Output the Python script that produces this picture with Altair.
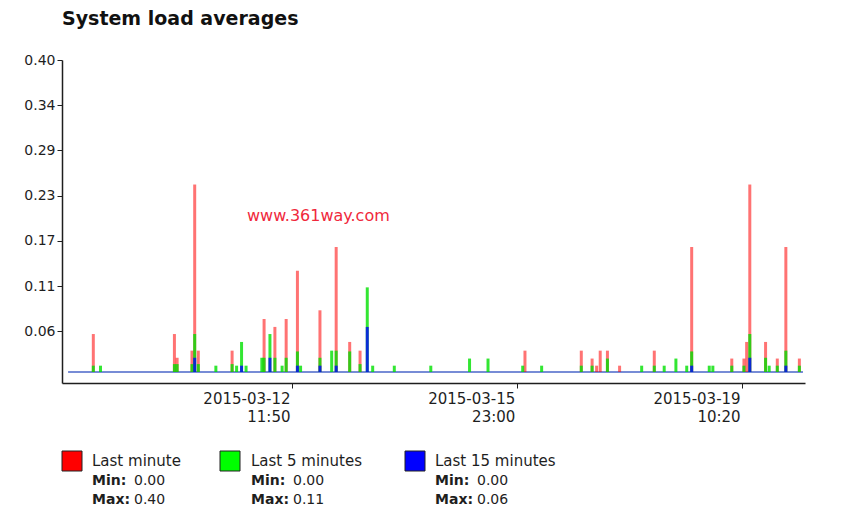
import altair as alt
import pandas as pd

TITLE = "System load averages"
WATERMARK = "www.361way.com"

# sample times (UTC) of the visible spikes
spike_times = [
    "2015-03-09T10:20:00Z", "2015-03-09T13:00:00Z", "2015-03-10T16:20:00Z", "2015-03-10T17:20:00Z",
    "2015-03-10T22:50:00Z", "2015-03-10T23:50:00Z", "2015-03-11T01:10:00Z", "2015-03-11T07:40:00Z",
    "2015-03-11T13:40:00Z", "2015-03-11T15:20:00Z", "2015-03-11T17:10:00Z", "2015-03-11T18:50:00Z",
    "2015-03-12T00:40:00Z", "2015-03-12T01:30:00Z", "2015-03-12T03:40:00Z", "2015-03-12T05:30:00Z",
    "2015-03-12T08:10:00Z", "2015-03-12T09:40:00Z", "2015-03-12T13:50:00Z", "2015-03-12T15:00:00Z",
    "2015-03-12T22:10:00Z", "2015-03-13T02:30:00Z", "2015-03-13T04:10:00Z", "2015-03-13T09:10:00Z",
    "2015-03-13T13:00:00Z", "2015-03-13T15:40:00Z", "2015-03-13T17:40:00Z", "2015-03-14T01:40:00Z",
    "2015-03-14T15:10:00Z", "2015-03-15T05:30:00Z", "2015-03-15T12:20:00Z", "2015-03-16T01:10:00Z",
    "2015-03-16T02:00:00Z", "2015-03-16T08:10:00Z", "2015-03-16T22:50:00Z", "2015-03-17T02:50:00Z",
    "2015-03-17T04:30:00Z", "2015-03-17T05:50:00Z", "2015-03-17T08:30:00Z", "2015-03-17T13:00:00Z",
    "2015-03-17T21:10:00Z", "2015-03-18T01:50:00Z", "2015-03-18T05:30:00Z", "2015-03-18T09:50:00Z",
    "2015-03-18T13:50:00Z", "2015-03-18T15:40:00Z", "2015-03-18T22:10:00Z", "2015-03-18T23:30:00Z",
    "2015-03-19T06:30:00Z", "2015-03-19T11:00:00Z", "2015-03-19T12:00:00Z", "2015-03-19T13:10:00Z",
    "2015-03-19T19:00:00Z", "2015-03-19T20:20:00Z", "2015-03-19T23:20:00Z", "2015-03-20T02:30:00Z",
    "2015-03-20T07:30:00Z",
]
last_1 = [
    0.048, 0.0, 0.048, 0.018, 0.027, 0.237, 0.027, 0.0,
    0.027, 0.0, 0.0, 0.0, 0.0, 0.067, 0.0, 0.057,
    0.0, 0.067, 0.128, 0.0, 0.078, 0.0, 0.158, 0.038,
    0.027, 0.0, 0.0, 0.0, 0.0, 0.0, 0.0, 0.0,
    0.027, 0.0, 0.027, 0.017, 0.008, 0.027, 0.027, 0.008,
    0.0, 0.027, 0.0, 0.0, 0.0, 0.158, 0.0, 0.0,
    0.017, 0.017, 0.038, 0.237, 0.038, 0.0, 0.017, 0.158,
    0.017,
]
last_5 = [
    0.008, 0.008, 0.010, 0.010, 0.010, 0.048, 0.010, 0.008,
    0.010, 0.008, 0.038, 0.008, 0.018, 0.018, 0.048, 0.018,
    0.008, 0.018, 0.026, 0.008, 0.018, 0.027, 0.027, 0.026,
    0.010, 0.107, 0.008, 0.008, 0.008, 0.017, 0.017, 0.008,
    0.0, 0.008, 0.008, 0.008, 0.0, 0.0, 0.017, 0.0,
    0.008, 0.008, 0.008, 0.017, 0.008, 0.026, 0.008, 0.008,
    0.008, 0.008, 0.0, 0.048, 0.018, 0.008, 0.008, 0.027,
    0.008,
]
last_15 = [
    0.0, 0.0, 0.0, 0.0, 0.0, 0.018, 0.0, 0.0,
    0.0, 0.0, 0.008, 0.0, 0.0, 0.0, 0.018, 0.0,
    0.0, 0.0, 0.008, 0.0, 0.008, 0.0, 0.008, 0.0,
    0.0, 0.057, 0.0, 0.0, 0.0, 0.0, 0.0, 0.0,
    0.0, 0.0, 0.0, 0.0, 0.0, 0.0, 0.0, 0.0,
    0.0, 0.0, 0.0, 0.0, 0.0, 0.008, 0.0, 0.0,
    0.0, 0.0, 0.0, 0.018, 0.0, 0.0, 0.0, 0.008,
    0.0,
]

series_names = ["Last minute", "Last 5 minutes", "Last 15 minutes"]
series_colors = ["#ff0000", "#00ff00", "#0000ff"]
series_min = ["0.00", "0.00", "0.00"]
series_max = ["0.40", "0.11", "0.06"]

y_ticks = [0.0571, 0.1143, 0.1714, 0.2286, 0.2857, 0.3429, 0.40]
BASELINE = 0.0056
line_span = ["2015-03-09T01:00:00Z", "2015-03-20T08:50:00Z"]

FONT = "DejaVu Sans"
INK = "#1e1e1e"

x_scale = alt.Scale(
    type="utc", padding=0,
    domain=[alt.DateTime(year=2015, month=3, date=8, hours=22, minutes=45, utc=True),
            alt.DateTime(year=2015, month=3, date=20, hours=9, minutes=35, utc=True)],
)
y_scale = alt.Scale(domain=[-0.0083, 0.40], nice=False, zero=False, padding=0)

x_axis = alt.Axis(
    title=None, grid=False,
    values=[alt.DateTime(year=2015, month=3, date=12, hours=11, minutes=50, utc=True),
            alt.DateTime(year=2015, month=3, date=15, hours=23, minutes=0, utc=True),
            alt.DateTime(year=2015, month=3, date=19, hours=10, minutes=20, utc=True)],
    labelExpr="[utcFormat(datum.value, '%Y-%m-%d'), utcFormat(datum.value, '%H:%M')]",
    labelAlign="right", labelBaseline="top", labelPadding=3, labelOffset=-2,
    labelLineHeight=18, labelFont=FONT, labelFontSize=15, labelColor=INK,
    domainColor=INK, domainWidth=1.5, tickColor=INK, tickSize=5, labelFlush=False,
    labelOverlap=False,
)
y_axis = alt.Axis(
    title=None, grid=False, values=y_ticks, format=".2f",
    labelFont=FONT, labelFontSize=14, labelColor=INK, labelPadding=2,
    domainColor=INK, domainWidth=1.5, tickColor=INK, tickSize=5,
)

layers = []

base_df = pd.DataFrame({"start": [line_span[0]], "end": [line_span[1]], "level": [BASELINE]})
layers.append(
    alt.Chart(base_df).mark_rule(color="#4a66c8", strokeWidth=1.5).encode(
        x=alt.X("start:T", scale=x_scale, axis=x_axis),
        x2="end:T",
        y=alt.Y("level:Q", scale=y_scale, axis=y_axis),
    )
)

for values, color, opacity in [(last_1, "#ff0000", 0.55), (last_5, "#00e000", 0.8), (last_15, "#0000ff", 0.8)]:
    df = pd.DataFrame({"time": spike_times, "load": values})
    df = df[df["load"] > 0].copy()
    df["top"] = df["load"] + BASELINE
    df["base"] = BASELINE
    layers.append(
        alt.Chart(df).mark_bar(size=3, color=color, opacity=opacity).encode(
            x=alt.X("time:T", scale=x_scale, axis=x_axis),
            y=alt.Y("top:Q", scale=y_scale, axis=y_axis),
            y2="base:Q",
        )
    )

one = pd.DataFrame({"k": [0]})

# title
layers.append(
    alt.Chart(one).mark_text(text=TITLE, font=FONT, fontSize=19, fontWeight="bold",
                             color="#111111", align="left", baseline="alphabetic").encode(
        x=alt.value(0), y=alt.value(-35))
)
# watermark
layers.append(
    alt.Chart(one).mark_text(text=WATERMARK, font=FONT, fontSize=16, color="#f0283c",
                             align="left", baseline="middle").encode(
        x=alt.value(185), y=alt.value(156))
)

# legend
col_square = [0, 158, 343]
col_text = [30, 189, 373]
col_value = [72, 231, 415]
for i in range(3):
    layers.append(
        alt.Chart(one).mark_rect(color=series_colors[i], stroke="#222222", strokeWidth=1).encode(
            x=alt.value(col_square[i]), x2=alt.value(col_square[i] + 20),
            y=alt.value(391), y2=alt.value(411))
    )
    layers.append(
        alt.Chart(one).mark_text(text=series_names[i], font=FONT, fontSize=15, color=INK,
                                 align="left", baseline="middle").encode(
            x=alt.value(col_text[i]), y=alt.value(401))
    )
    for label, val, yy in [("Min:", series_min[i], 421), ("Max:", series_max[i], 440)]:
        layers.append(
            alt.Chart(one).mark_text(text=label, font=FONT, fontSize=14, fontWeight="bold",
                                     color=INK, align="left", baseline="middle").encode(
                x=alt.value(col_text[i]), y=alt.value(yy))
        )
        layers.append(
            alt.Chart(one).mark_text(text=val, font=FONT, fontSize=14, color=INK,
                                     align="left", baseline="middle").encode(
                x=alt.value(col_value[i]), y=alt.value(yy))
        )

chart = alt.layer(*layers).properties(
    width=743, height=323,
    autosize=alt.AutoSizeParams(type="none"),
    padding={"left": 54, "top": 52, "right": 51, "bottom": 124},
    background="white",
).configure_view(stroke=None)

chart.save("out.html", embed_options={"renderer": "svg", "actions": False})
